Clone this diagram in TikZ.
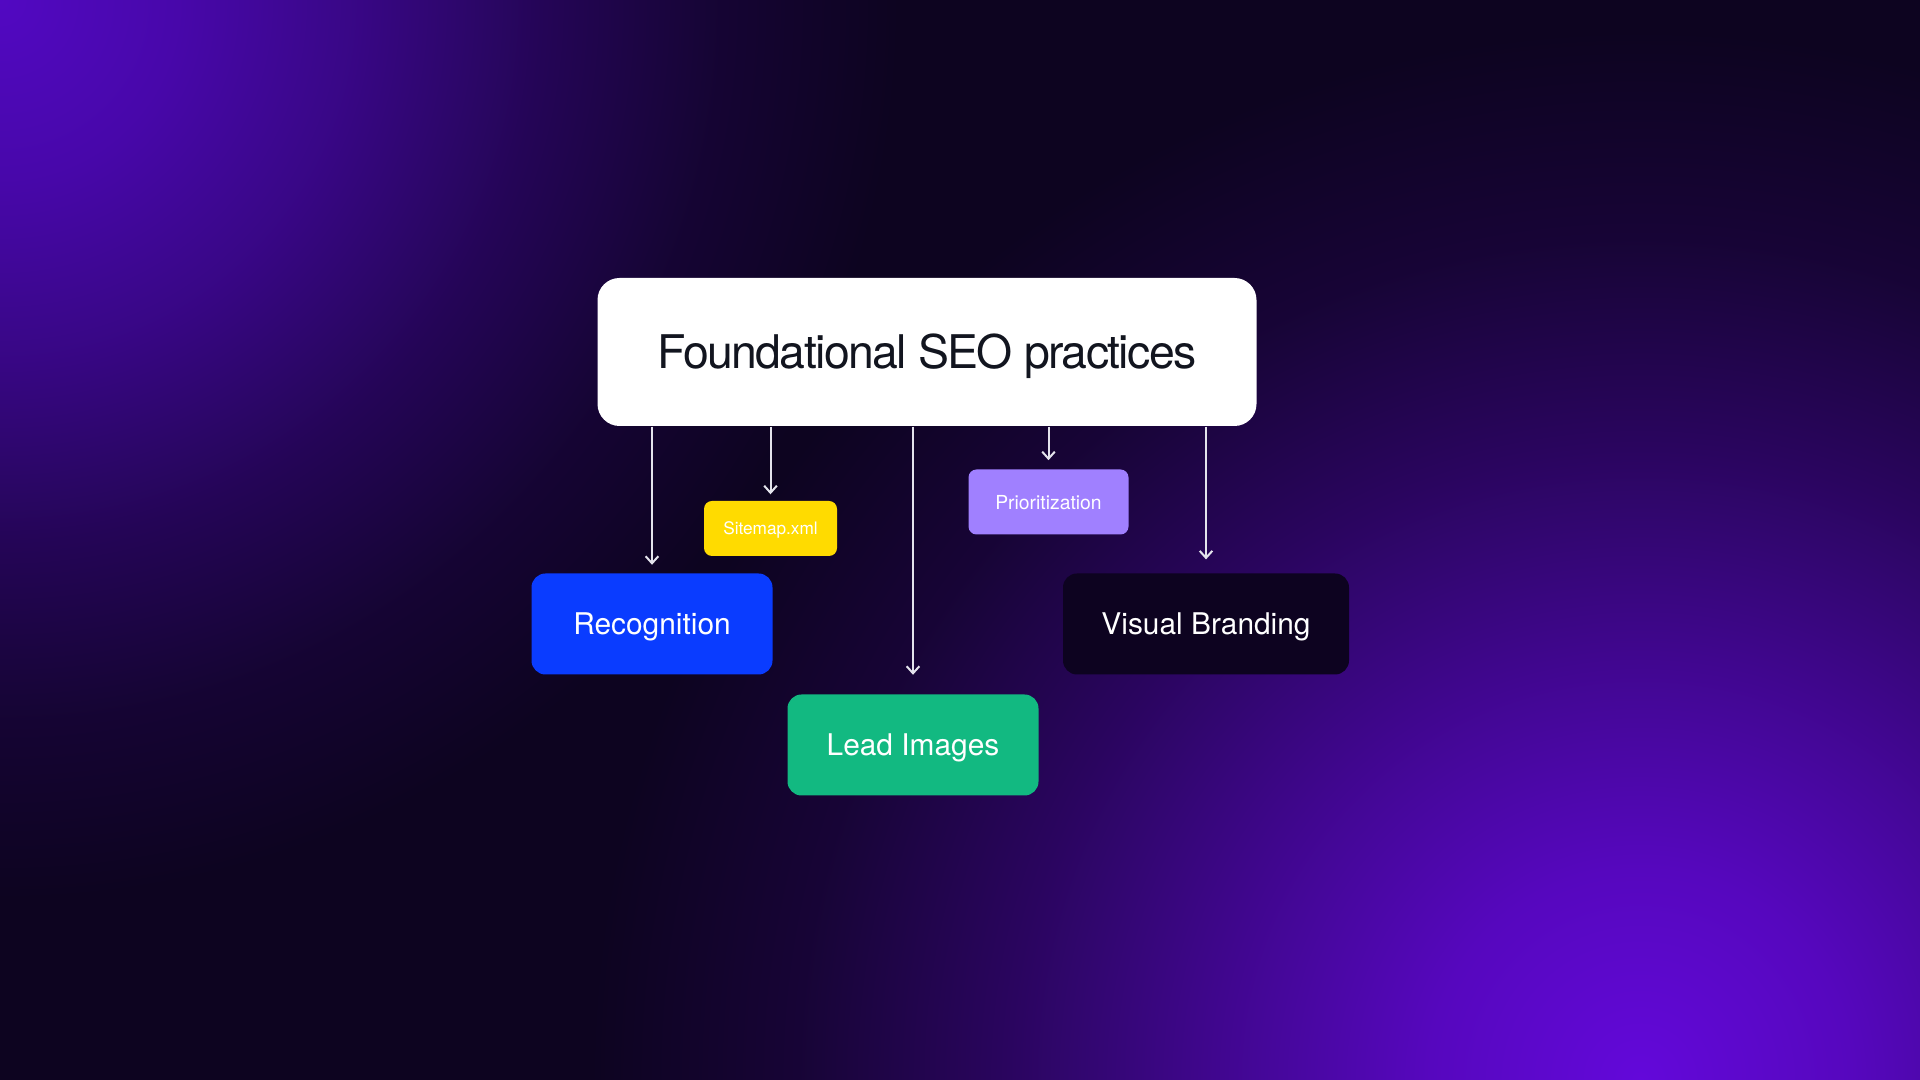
\documentclass[tikz,border=0pt]{standalone}
\usepackage{fontspec}
\setmainfont{TeX Gyre Heros}
\newfontfamily\titlefont[LetterSpace=-3.5]{TeX Gyre Heros}
\usepackage{xcolor}
\usetikzlibrary{arrows.meta}

\definecolor{bgdark}{HTML}{0D0420}
\definecolor{glowA}{HTML}{5208C2}
\definecolor{glowB}{HTML}{6308DA}
\definecolor{titleink}{HTML}{12151F}
\definecolor{sitemapyellow}{HTML}{FFDB00}
\definecolor{prioviolet}{HTML}{A080FF}
\definecolor{recogblue}{HTML}{0A3CFF}
\definecolor{leadgreen}{HTML}{12B981}
\definecolor{brandnight}{HTML}{0D0320}
\definecolor{linkgray}{HTML}{E4E4EC}

% the circle's rim sits at 25bp
\pgfdeclareradialshading{glowTL}{\pgfpoint{0bp}{0bp}}{color(0bp)=(glowA); color(5bp)=(glowA!85!bgdark); color(10bp)=(glowA!62!bgdark); color(15bp)=(glowA!34!bgdark); color(20bp)=(glowA!12!bgdark); color(25bp)=(bgdark); color(50bp)=(bgdark)}
\pgfdeclareradialshading{glowBR}{\pgfpoint{0bp}{0bp}}{color(0bp)=(glowB); color(5bp)=(glowB!85!bgdark); color(10bp)=(glowB!60!bgdark); color(15bp)=(glowB!34!bgdark); color(20bp)=(glowB!12!bgdark); color(25bp)=(bgdark); color(50bp)=(bgdark)}

\begin{document}
\begin{tikzpicture}[
    mainbox/.style={fill=white, text=titleink, rounded corners=0.22cm, inner sep=0pt,
        minimum width=6.59cm, minimum height=1.48cm,
        font=\fontsize{13.2pt}{15pt}\titlefont, text height=9.5pt, text depth=0pt},
    card/.style={text=white, rounded corners=0.14cm, inner sep=0pt, minimum height=1.01cm,
        font=\fontsize{8.5pt}{10pt}\selectfont, text height=6.1pt, text depth=0pt},
    tagbox/.style={text=white, rounded corners=0.08cm, inner sep=0pt, text depth=0pt},
    link/.style={draw=linkgray, line width=0.57pt, -{Straight Barb[length=2pt,width=3.6pt]}}
]
        \useasboundingbox (0,0) rectangle (19.2,10.8);

        % Background with two glows
        \fill[bgdark] (0,0) rectangle (19.2,10.8);
        \begin{scope}
            \clip (0,0) rectangle (19.2,10.8);
            \shade[shading=glowTL] (0,10.8) circle (9);
            \shade[shading=glowBR] (16.4,0) circle (10.5);
        \end{scope}

        % Main box
        \node[mainbox] (seo) at (9.27,7.28) {Foundational SEO practices};

        % Small tags
        \node[tagbox, fill=sitemapyellow, minimum width=1.33cm, minimum height=0.55cm,
            font=\fontsize{4.9pt}{6pt}\selectfont, text height=3.5pt] (sitemap) at (7.705,5.515) {Sitemap.xml};
        \node[tagbox, fill=prioviolet, minimum width=1.60cm, minimum height=0.65cm,
            font=\fontsize{5.5pt}{7pt}\selectfont, text height=4pt] (prio) at (10.485,5.78) {Prioritization};

        % Cards
        \node[card, fill=recogblue, minimum width=2.41cm] (recog) at (6.52,4.56) {Recognition};
        \node[card, fill=leadgreen, minimum width=2.51cm] (lead) at (9.13,3.35) {Lead Images};
        \node[card, fill=brandnight, minimum width=2.86cm] (brand) at (12.06,4.56) {Visual Branding};

        % Links down from the main box
        \foreach \n/\gap in {recog/0.08, sitemap/0.06, lead/0.19, prio/0.086, brand/0.134} {
            \draw[link, shorten >=\gap cm] (\n.north |- seo.south) -- (\n.north);
        }
    \end{tikzpicture}
\end{document}
